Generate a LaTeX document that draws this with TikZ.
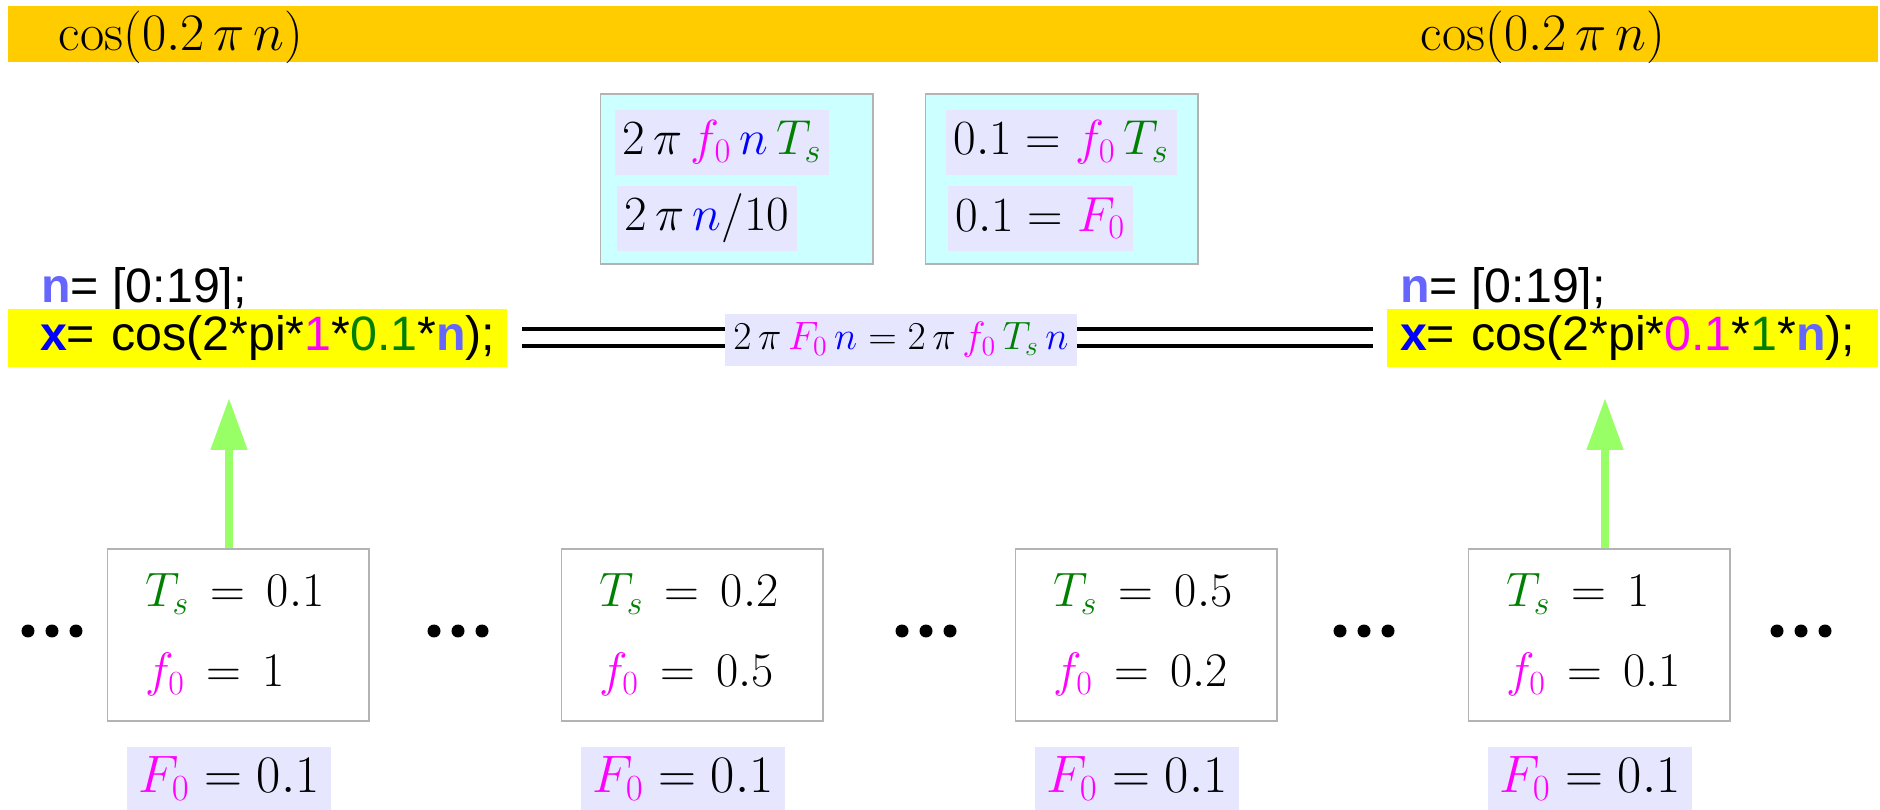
\documentclass[tikz,border=0pt]{standalone}
\usepackage{fix-cm}
\usepackage{fontspec}
\usepackage{xcolor}
\usepackage{tikz}
\usetikzlibrary{arrows.meta, positioning}
\newfontfamily\codefont{Liberation Sans}
\definecolor{bannergold}{HTML}{FFCC00}
\definecolor{cyanbg}{HTML}{CCFFFF}
\definecolor{lavbg}{HTML}{E6E6FF}
\definecolor{hiyellow}{HTML}{FFFF00}
\definecolor{boxgray}{HTML}{B3B3B3}
\definecolor{fmag}{HTML}{FF00FF}
\definecolor{tsgreen}{HTML}{008000}
\definecolor{nblue}{HTML}{0000FF}
\definecolor{codeblue}{HTML}{6666FF}
\definecolor{arrowgreen}{HTML}{99FF66}
\tikzstyle{banner} = [rectangle, fill=bannergold, minimum width=37.4cm, minimum height=1.12cm, inner sep=0pt]
\tikzstyle{titlemath} = [inner sep=0pt, font=\fontsize{30}{36}\selectfont]
\tikzstyle{cyanbox} = [rectangle, fill=cyanbg, draw=boxgray, line width=0.6pt, minimum width=5.46cm, minimum height=3.4cm]
\tikzstyle{lavbox} = [rectangle, fill=lavbg, inner xsep=0.16cm, inner ysep=0pt, minimum height=1.3cm, font=\fontsize{28}{34}\selectfont]
\tikzstyle{parambox} = [rectangle, draw=boxgray, line width=0.6pt, fill=white, text width=3.72cm, inner xsep=0.76cm, minimum height=3.44cm, align=left, font=\fontsize{27.5}{45.5}\selectfont]
\tikzstyle{codebox} = [rectangle, fill=hiyellow, minimum height=1.16cm, inner xsep=0pt, align=left, font=\codefont\fontsize{27.5}{32}\selectfont]
\tikzstyle{codetext} = [inner sep=0pt, anchor=base west, font=\codefont\fontsize{27.5}{32}\selectfont]
\tikzstyle{dblline} = [line width=0.08cm, double=white, double distance=0.26cm, shorten <=0.3cm, shorten >=0.28cm]
\tikzstyle{uparrow} = [draw=arrowgreen, line width=0.16cm, -{Triangle[width=0.7cm,length=1.04cm]}]

\begin{document}
\begin{tikzpicture}[x=0.02cm, y=-0.02cm]
    \useasboundingbox (0,0) rectangle (1880,810);
    \node[banner] (bar) at (943,34) {};
    \node[titlemath] (cosL) at (181,37) {$\cos(0.2\,\pi\,n)$};
    \node[titlemath] (cosR) at (1543,37) {$\cos(0.2\,\pi\,n)$};

    \node[cyanbox] (cyanA) at (736.5,179) {};
    \node[cyanbox] (cyanB) at (1061.5,179) {};
    \node[lavbox, below right=0.32cm and 0.3cm of cyanA.north west] (fA) {$2\,\pi\,{\color{fmag}f_0}\,{\color{nblue}n}\,{\color{tsgreen}T_s}$};
    \node[lavbox, below right=0.2cm and 0.04cm of fA.south west] (fB) {$2\,\pi\,{\color{nblue}n}/10$};
    \node[lavbox, below right=0.32cm and 0.42cm of cyanB.north west] (fC) {$0.1 = {\color{fmag}f_0}\,{\color{tsgreen}T_s}$};
    \node[lavbox, below right=0.2cm and 0.04cm of fC.south west] (fD) {$0.1 = {\color{fmag}F_0}$};

    \node[codetext] (nL) at (41,303) {{\bfseries\color{codeblue}n}= [0:19];};
    \node[codebox, text width=9.98cm] (codeL) at (257.5,338) {\hspace*{0.64cm}{\bfseries\color{nblue}x}= cos(2*pi*{\color{fmag}1}*{\color{tsgreen}0.1}*{\bfseries\color{codeblue}n});};
    \node[codetext] (nR) at (1400,303) {{\bfseries\color{codeblue}n}= [0:19];};
    \node[codebox, text width=9.82cm] (codeR) at (1632.5,338) {\hspace*{0.26cm}{\bfseries\color{nblue}x}= cos(2*pi*{\color{fmag}0.1}*{\color{tsgreen}1}*{\bfseries\color{codeblue}n});};

    \draw[dblline] (codeL.east) -- (codeR.west);
    \node[lavbox, minimum height=1.04cm, font=\fontsize{22.5}{27}\selectfont] (eq) at (901,340) {$2\,\pi\,{\color{fmag}F_0}\,{\color{nblue}n} = 2\,\pi\,{\color{fmag}f_0}\,{\color{tsgreen}T_s}\,{\color{nblue}n}$};

    \foreach \i/\cx/\ts/\fo in {1/238/0.1/1, 2/692/0.2/0.5, 3/1146/0.5/0.2, 4/1599/1/0.1} {
        \node[parambox] (par\i) at (\cx,635) {${\color{tsgreen}T_s}\,=\,\ts$\\${\color{fmag}f_0}\,=\,\fo$};
        \node[lavbox, minimum width=4.08cm, minimum height=1.28cm, font=\fontsize{30}{36}\selectfont, below=0.5cm of par\i, xshift=-0.18cm] (Fz\i) {${\color{fmag}F_0} = 0.1$};
    }

    \foreach \dx in {52,458,926,1364,1801}
        \foreach \k in {-24,0,24}
            \fill ({\dx+\k},631) circle (0.13cm);

    \coordinate (tipL) at (229,398);
    \coordinate (tipR) at (1605,398);
    \draw[uparrow] (tipL |- par1.north) -- (tipL);
    \draw[uparrow] (tipR |- par4.north) -- (tipR);
\end{tikzpicture}
\end{document}
